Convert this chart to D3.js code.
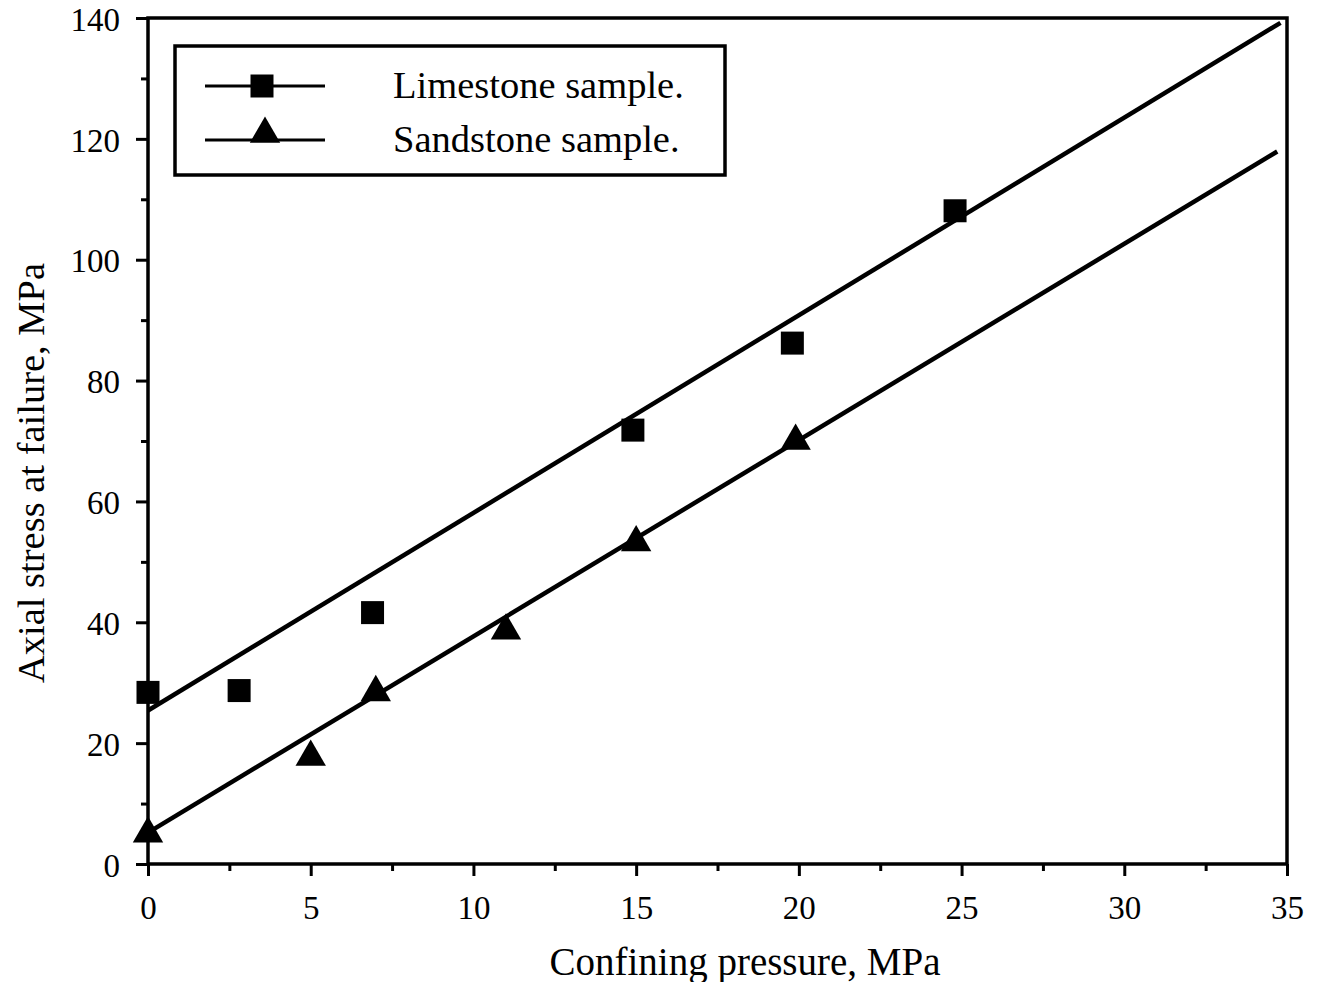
<!DOCTYPE html>
<html><head><meta charset="utf-8">
<script src="https://cdn.jsdelivr.net/npm/d3@7"></script>
<style>body{margin:0;background:#fff;} text{font-family:"Liberation Serif","Times New Roman",serif;fill:#000;}</style>
</head><body>
<svg id="c" width="1318" height="982"></svg>
<script>
// Data
const limestoneX = [0, 2.8, 6.9, 14.9, 19.8, 24.8];
const limestoneY = [28.4, 28.7, 41.6, 71.8, 86.2, 108.1];
const sandstoneX = [0, 5.0, 7.0, 11.0, 15.0, 19.9];
const sandstoneY = [5.0, 17.7, 28.4, 38.6, 53.2, 70.0];
const limestoneFit = [[0, 25.4], [34.8, 139.2]];
const sandstoneFit = [[0, 5.2], [34.7, 117.9]];
const xTicks = [0, 5, 10, 15, 20, 25, 30, 35];
const yTicks = [0, 20, 40, 60, 80, 100, 120, 140];
const xMinor = [2.5, 7.5, 12.5, 17.5, 22.5, 27.5, 32.5];
const yMinor = [10, 30, 50, 70, 90, 110, 130];
const legendLabels = ["Limestone sample.", "Sandstone sample."];

const svg = d3.select("#c");
const L = 148, R = 1287, T = 18, B = 864;
const x = d3.scaleLinear().domain([0, 35]).range([L, R]);
const y = d3.scaleLinear().domain([0, 140]).range([B, T]);

// frame
svg.append("rect").attr("x", L).attr("y", T).attr("width", R - L).attr("height", B - T)
  .attr("fill", "none").attr("stroke", "#000").attr("stroke-width", 3.5);

// x axis
const gx = svg.append("g").attr("transform", `translate(0,${B})`)
  .call(d3.axisBottom(x).tickValues(xTicks).tickSize(12).tickPadding(20).tickFormat(d3.format("d")));
gx.select(".domain").remove();
gx.selectAll("line").attr("stroke-width", 3);
gx.selectAll("text").attr("font-size", 33);
const gxm = svg.append("g").attr("transform", `translate(0,${B})`)
  .call(d3.axisBottom(x).tickValues(xMinor).tickSize(7).tickFormat(""));
gxm.select(".domain").remove();
gxm.selectAll("line").attr("stroke-width", 3);

// y axis
const gy = svg.append("g").attr("transform", `translate(${L},0)`)
  .call(d3.axisLeft(y).tickValues(yTicks).tickSize(12).tickPadding(16).tickFormat(d3.format("d")));
gy.select(".domain").remove();
gy.selectAll("line").attr("stroke-width", 3);
gy.selectAll("text").attr("font-size", 33).attr("dy", "0.37em");
const gym = svg.append("g").attr("transform", `translate(${L},0)`)
  .call(d3.axisLeft(y).tickValues(yMinor).tickSize(7).tickFormat(""));
gym.select(".domain").remove();
gym.selectAll("line").attr("stroke-width", 3);

// fit lines
const line = d3.line().x(d => x(d[0])).y(d => y(d[1]));
[limestoneFit, sandstoneFit].forEach(f => {
  svg.append("path").attr("d", line(f)).attr("fill", "none").attr("stroke", "#000").attr("stroke-width", 4.5);
});

// markers
const sq = d3.symbol().type(d3.symbolSquare).size(23 * 23);
const tri = d3.symbol().type(d3.symbolTriangle).size(400);
svg.append("g").selectAll("path").data(limestoneX).join("path")
  .attr("d", sq).attr("transform", (d, i) => `translate(${x(d)},${y(limestoneY[i])})`).attr("fill", "#000");
svg.append("g").selectAll("path").data(sandstoneX).join("path")
  .attr("d", tri).attr("transform", (d, i) => `translate(${x(d)},${y(sandstoneY[i])})`).attr("fill", "#000");

// axis titles
svg.append("text").attr("x", 745).attr("y", 975).attr("text-anchor", "middle").attr("font-size", 39)
  .text("Confining pressure, MPa");
svg.append("text").attr("transform", "translate(44,473) rotate(-90)").attr("text-anchor", "middle").attr("font-size", 38.5)
  .text("Axial stress at failure, MPa");

// legend
const lg = svg.append("g");
lg.append("rect").attr("x", 175).attr("y", 46).attr("width", 550).attr("height", 129)
  .attr("fill", "#fff").attr("stroke", "#000").attr("stroke-width", 3.5);
const ly = [86, 140];
ly.forEach((yy, i) => {
  lg.append("line").attr("x1", 205).attr("x2", 325).attr("y1", yy).attr("y2", yy).attr("stroke", "#000").attr("stroke-width", 3);
  lg.append("path").attr("d", i === 0 ? sq : tri)
    .attr("transform", `translate(${i === 0 ? 262 : 265},${i === 0 ? yy : yy - 6})`).attr("fill", "#000");
  lg.append("text").attr("x", 393).attr("y", yy + 12).attr("font-size", 38.5).text(legendLabels[i]);
});
</script>
</body></html>
